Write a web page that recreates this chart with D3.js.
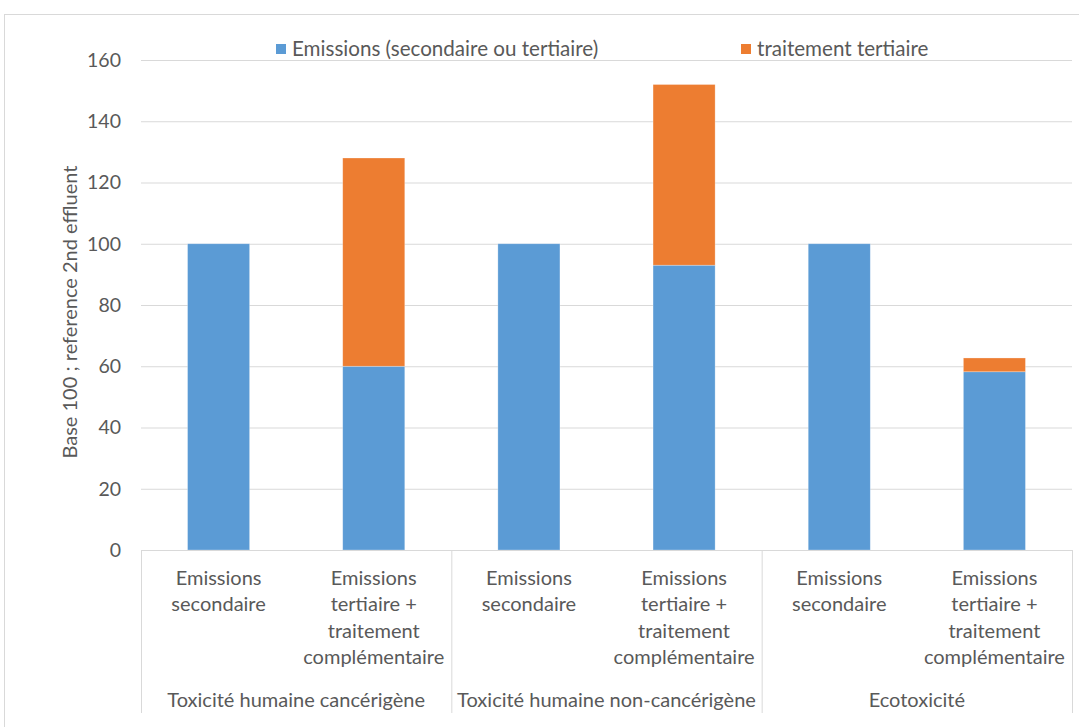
<!DOCTYPE html>
<html><head><meta charset="utf-8">
<script src="https://cdn.jsdelivr.net/npm/d3@7"></script>
<style>
html,body{margin:0;padding:0;background:#fff;}
text{font-family:"Lato","Open Sans",sans-serif;fill:#595959;}
</style></head>
<body><svg id="c" width="1079" height="727"></svg>
<script>
const groups = ["Toxicité humaine cancérigène","Toxicité humaine non-cancérigène","Ecotoxicité"];
const subLabels = [["Emissions","secondaire"],["Emissions","tertiaire +","traitement","complémentaire"]];
const seriesNames = ["Emissions (secondaire ou tertiaire)","traitement tertiaire"];
const emissions = [100, 60, 100, 93, 100, 58.2];
const traitement = [0, 68, 0, 59, 0, 4.5];
const yTicks = [0,20,40,60,80,100,120,140,160];
const colors = ["#5b9bd5","#ed7d31"];

(function(){
const svg = d3.select("#c");
const pL = 141, pR = 1072, pT = 60, pB = 550;
const fs = 20;

svg.append("rect").attr("x",4.5).attr("y",14.5).attr("width",1090).attr("height",730)
  .attr("fill","none").attr("stroke","#d9d9d9");

const cats = d3.range(6);
const x = d3.scaleBand().domain(cats).range([pL,pR]).paddingInner(0.6).paddingOuter(0.3);
const y = d3.scaleLinear().domain([0,160]).range([pB,pT]);

svg.append("g").selectAll("line").data(yTicks.filter(d=>d>0)).join("line")
  .attr("x1",pL).attr("x2",pR).attr("y1",d=>y(d)+0.5).attr("y2",d=>y(d)+0.5)
  .attr("stroke","#d9d9d9").attr("stroke-width",1);

const ya = svg.append("g").attr("transform",`translate(${pL},0)`)
  .call(d3.axisLeft(y).tickValues(yTicks).tickSize(0).tickPadding(20));
ya.select(".domain").remove();
ya.selectAll("text").attr("font-size",19.5).attr("fill","#595959").style("font-family","Lato");

const rows = cats.map(i=>({i, e:emissions[i], t:traitement[i]}));
const stack = d3.stack().keys(["e","t"])(rows);
svg.append("g").selectAll("g").data(stack).join("g").attr("fill",(d,k)=>colors[k])
  .selectAll("rect").data(d=>d.filter(s=>s[1]-s[0]>0)).join("rect")
  .attr("x",d=>x(d.data.i)).attr("width",x.bandwidth())
  .attr("y",d=>y(d[1])).attr("height",d=>y(d[0])-y(d[1]))
  .attr("stroke","#fff").attr("stroke-opacity",0.4).attr("stroke-width",0.7);

svg.append("line").attr("x1",pL).attr("x2",pR).attr("y1",pB+0.5).attr("y2",pB+0.5).attr("stroke","#d9d9d9");
const step = (pR-pL)/3;
svg.append("g").selectAll("line").data(d3.range(4)).join("line")
  .attr("x1",d=>pL+d*step+0.5).attr("x2",d=>pL+d*step+0.5)
  .attr("y1",pB).attr("y2",713).attr("stroke","#d9d9d9");

const lg = svg.append("g");
cats.forEach(i=>{
  const lines = subLabels[i%2];
  const cx = x(i)+x.bandwidth()/2;
  const t = lg.append("text").attr("text-anchor","middle").attr("font-size",fs);
  lines.forEach((l,j)=>t.append("tspan").attr("x",cx).attr("y",585+j*26.4).text(l));
});
groups.forEach((g,k)=>{
  lg.append("text").attr("x",pL+step*(k+0.5)).attr("y",707).attr("text-anchor","middle")
    .attr("font-size",fs).text(g);
});

svg.append("text").attr("transform","translate(77,312) rotate(-90)").attr("text-anchor","middle")
  .attr("font-size",20).text("Base 100 ; reference 2nd effluent");

const legX = [276, 741];
seriesNames.forEach((n,k)=>{
  svg.append("rect").attr("x",legX[k]).attr("y",44).attr("width",10).attr("height",10).attr("fill",colors[k]);
  svg.append("text").attr("x",legX[k]+16).attr("y",56).attr("font-size",20.6).text(n);
});
})();
</script></body></html>
